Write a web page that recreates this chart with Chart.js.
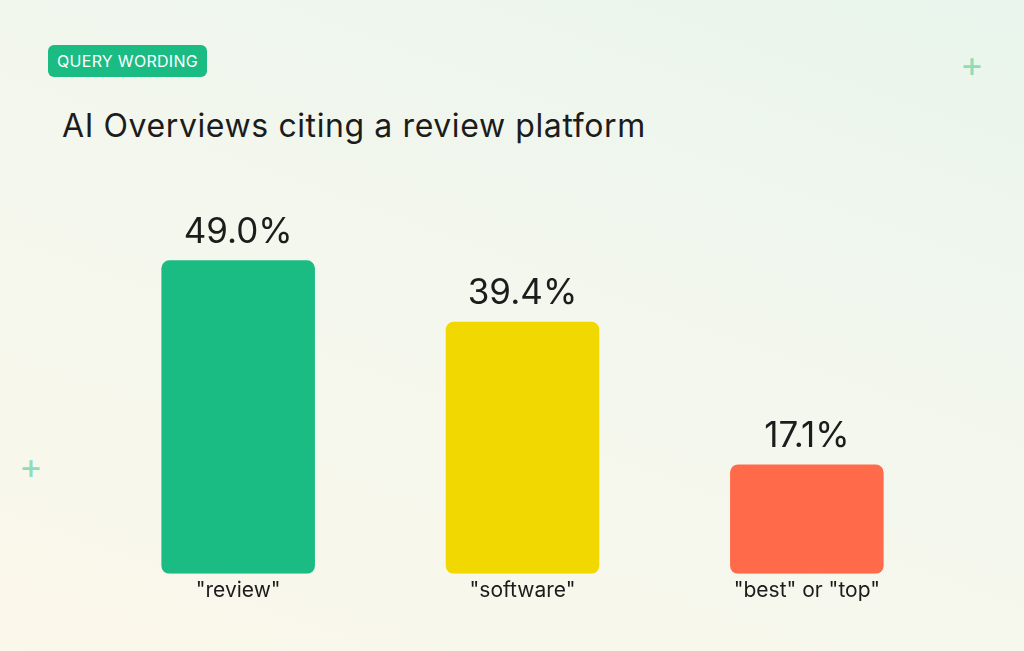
<!DOCTYPE html>
<html>
<head>
<meta charset="utf-8">
<script src="https://cdn.jsdelivr.net/npm/chart.js@4.4.0/dist/chart.umd.min.js"></script>
<style>
  html, body { margin: 0; padding: 0; }
  body {
    width: 1024px; height: 651px; position: relative; overflow: hidden;
    font-family: Inter, "Noto Sans", sans-serif;
    background: linear-gradient(200deg, #e9f5ec 0%, #f4f7ee 50%, #fbf7ea 100%);
  }
  #badge {
    position: absolute; left: 48px; top: 45px; height: 32px; padding: 0 9px;
    background: #1bbc84; color: #fff; border-radius: 6px;
    font-size: 16px; line-height: 32px; letter-spacing: 0.3px;
  }
  #title {
    position: absolute; left: 62px; top: 106px; margin: 0;
    font-size: 32px; font-weight: 400; color: #1c1c1c; letter-spacing: 0.6px;
  }
  .plus { position: absolute; color: #8fdcb8; font-size: 36px; font-weight: 400; line-height: 1; }
  #wrap { position: absolute; left: 0; top: 0; width: 1024px; height: 651px; }
</style>
</head>
<body>
<div id="badge">QUERY WORDING</div>
<h1 id="title">AI Overviews citing a review platform</h1>
<div class="plus" style="left:960px;top:46px">+</div>
<div class="plus" style="left:19px;top:448px">+</div>
<div id="wrap"><canvas id="chart"></canvas></div>
<script>
const categories = ['"review"', '"software"', '"best" or "top"'];
const values = [49.0, 39.4, 17.1];
const colors = ["#1bbc84", "#f0d800", "#ff6b4a"];

const valueLabels = {
  id: "valueLabels",
  afterDatasetsDraw(chart) {
    const c = chart.ctx;
    const meta = chart.getDatasetMeta(0);
    c.save();
    c.font = "35px Inter, 'Noto Sans', sans-serif";
    c.fillStyle = "#1c1c1c";
    c.textAlign = "center";
    c.textBaseline = "middle";
    meta.data.forEach((bar, i) => {
      c.fillText(values[i].toFixed(1) + "%", bar.x, bar.y - 28);
    });
    c.restore();
  }
};

new Chart(document.getElementById("chart"), {
  type: "bar",
  data: {
    labels: categories,
    datasets: [{
      data: values,
      backgroundColor: colors,
      borderRadius: 8,
      borderSkipped: false,
      barPercentage: 0.54,
      categoryPercentage: 1
    }]
  },
  options: {
    responsive: true,
    maintainAspectRatio: false,
    animation: false,
    layout: { padding: { left: 96, right: 75, top: 190, bottom: 44 } },
    plugins: { legend: { display: false }, tooltip: { enabled: false } },
    scales: {
      y: { display: false, min: 0, max: 60 },
      x: {
        grid: { display: false, drawTicks: false },
        border: { display: false },
        ticks: { color: "#1c1c1c", padding: 4, font: { size: 21, family: "Inter, 'Noto Sans', sans-serif" } }
      }
    }
  },
  plugins: [valueLabels]
});
</script>
</body>
</html>
